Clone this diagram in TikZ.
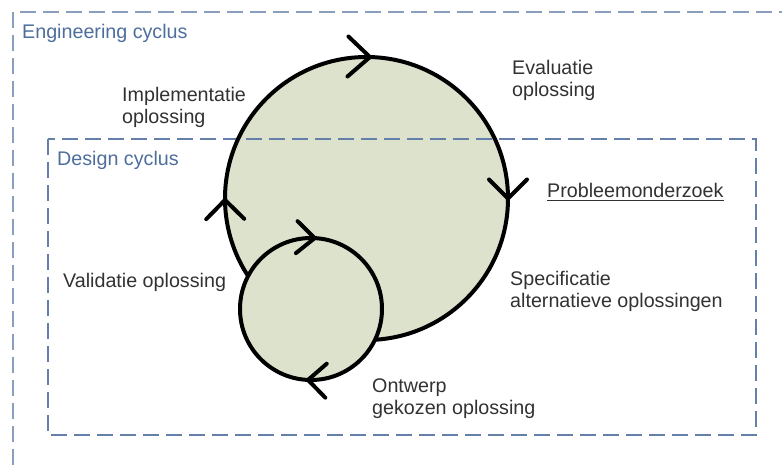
\documentclass[tikz,border=0pt]{standalone}
\usepackage{fontspec}
\setmainfont{Liberation Sans}
\usetikzlibrary{calc}
\definecolor{cyclefill}{RGB}{220,226,204}
\definecolor{outerdash}{RGB}{138,158,190}
\definecolor{innerdash}{RGB}{100,128,170}
\definecolor{framelabel}{RGB}{78,110,158}
\definecolor{labeltext}{RGB}{50,50,50}
\begin{document}
\begin{tikzpicture}[x=1pt,y=-1pt,
  frame/.style={line width=2pt, dash pattern=on 16pt off 7pt},
  cycle/.style={line width=4pt, draw=black},
  chev/.style={line width=4pt, line join=miter, line cap=round},
  lbl/.style={inner sep=0pt, anchor=base west, align=left, text=labeltext,
              font=\fontsize{19.7}{22}\selectfont},
  framelbl/.style={lbl, text=framelabel}]
  % canvas
  \clip (0,0) rectangle (782,468);
  \fill[white] (0,0) rectangle (782,468);

  \coordinate (big) at (366.5,198.5);
  \coordinate (small) at (311,309);

  % large cycle: fill first so the frame dashes show on top of it
  \fill[cyclefill] (big) circle (141.5);

  % frames
  \draw[frame, draw=outerdash] (13,12) rectangle (800,490);
  \draw[frame, draw=innerdash] (48,139) rectangle (756,435);

  % large cycle outline and its clockwise direction marks
  % (rotation acts on the canvas, where positive angles turn upwards)
  \draw[cycle] (big) circle (141.5);
  \draw[chev, shift={($(big)+(271.4:141.5)$)}, rotate=-1.4] (-22,-20) -- (0,0) -- (-22,20);
  \draw[chev, shift={($(big)+(0:141.5)$)}, rotate=-90] (-19,-19) -- (0,0) -- (-19,19);
  \draw[chev, shift={($(big)+(179.4:141.5)$)}, rotate=90.6] (-19,-19) -- (0,0) -- (-19,19);

  % small cycle
  \draw[cycle, fill=cyclefill] (small) circle (71);
  \draw[chev, shift={($(small)+(273:71)$)}, rotate=-3] (-18,-16) -- (0,0) -- (-18,16);
  \draw[chev, shift={($(small)+(92.4:71)$)}, rotate=177.6] (-18,-17) -- (0,0) -- (-18,17);

  % frame titles
  \node[framelbl] (engtitle) at (22,39) {Engineering cyclus};
  \node[framelbl] (destitle) at (57,165) {Design cyclus};

  % phase labels (two-line labels sit on the baseline of their last line)
  \node[lbl] (impl) at (122,124) {Implementatie\\oplossing};
  \node[lbl] (eval) at (512,97) {Evaluatie\\oplossing};
  \node[lbl] (prob) at (547,197) {Probleemonderzoek};
  \draw[line width=1.5pt, labeltext] ($(prob.base west)+(0,3.5)$) -- ($(prob.base east)+(0,3.5)$);
  \node[lbl] (spec) at (510,307) {Specificatie\\alternatieve oplossingen};
  \node[lbl] (valid) at (63,287) {Validatie oplossing};
  \node[lbl] (ontw) at (372,414) {Ontwerp\\gekozen oplossing};
\end{tikzpicture}
\end{document}
